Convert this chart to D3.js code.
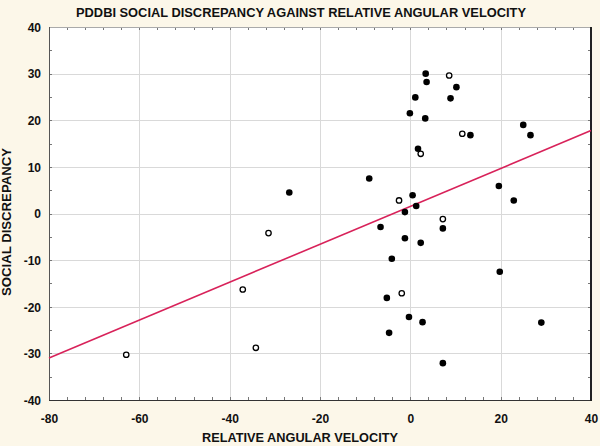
<!DOCTYPE html>
<html>
<head>
<meta charset="utf-8">
<script src="https://cdn.jsdelivr.net/npm/d3@7"></script>
<style>
  html, body { margin: 0; padding: 0; background: #fcf7e9; }
  svg { display: block; }
</style>
</head>
<body>
<svg id="chart" width="600" height="446"></svg>
<script>
// ---- Data ----
const filledX = [3.4, 3.6, 10.2, 1.1, 8.9, -0.1, 3.3, 25.0, 26.6, 13.3, 1.7, -9.1, 19.6, 22.9, 0.5, 1.3, -1.2, 7.2, -6.6, -1.2, 2.3, -4.1, 19.8, -5.2, -0.3, 2.7, -4.7, 29.0, 7.2, -26.8];
const filledY = [30.0, 28.2, 27.1, 24.9, 24.7, 21.5, 20.4, 19.0, 16.8, 16.8, 13.9, 7.5, 5.9, 2.8, 3.9, 1.6, 0.3, -3.2, -2.9, -5.3, -6.3, -9.7, -12.5, -18.1, -22.2, -23.3, -25.6, -23.4, -32.1, 4.5];
const openX = [8.6, 11.5, 2.3, -2.5, 7.2, -1.9, -31.4, -37.1, -34.2, -62.9];
const openY = [29.6, 17.1, 12.8, 2.8, -1.2, -17.1, -4.2, -16.3, -28.8, -30.3];
const fitX = [-80, 40];
const fitY = [-31.0, 17.8];
const xTicks = [-80, -60, -40, -20, 0, 20, 40];
const yTicks = [-40, -30, -20, -10, 0, 10, 20, 30, 40];
const titleText = "PDDBI SOCIAL DISCREPANCY AGAINST RELATIVE ANGULAR VELOCITY";
const xTitle = "RELATIVE ANGULAR VELOCITY";
const yTitle = "SOCIAL DISCREPANCY";

// ---- Layout ----
const L = 49, R = 591, T = 27, B = 400;
const svg = d3.select("#chart");
const x = d3.scaleLinear().domain([-80, 40]).range([L, R]);
const y = d3.scaleLinear().domain([-40, 40]).range([B, T]);
const font = "'Liberation Sans', Arial, sans-serif";
const narrow = "'Liberation Sans Narrow', 'Arial Narrow', 'Liberation Sans', Arial, sans-serif";
const fmt = d => String(d);

svg.append("rect").attr("width", 600).attr("height", 446).attr("fill", "#fcf7e9");
svg.append("rect").attr("x", L).attr("y", T).attr("width", R - L).attr("height", B - T).attr("fill", "#ffffff");

// gridlines
const grid = svg.append("g").attr("stroke", "#d9d9d9").attr("stroke-width", 1);
grid.selectAll("line.gx").data(xTicks.slice(1, -1)).join("line")
  .attr("x1", d => Math.round(x(d)) + 0.5).attr("x2", d => Math.round(x(d)) + 0.5)
  .attr("y1", T).attr("y2", B);
grid.selectAll("line.gy").data(yTicks.slice(1, -1)).join("line")
  .attr("y1", d => Math.round(y(d)) + 0.5).attr("y2", d => Math.round(y(d)) + 0.5)
  .attr("x1", L).attr("x2", R);

// minor ticks inside on all sides
const xMinor = d3.range(-80, 40.001, 4);
const yMinor = d3.range(-40, 40.001, 5);
const tk = svg.append("g").attr("stroke", "#777").attr("stroke-width", 1);
xMinor.forEach(v => {
  const px = Math.round(x(v)) + 0.5;
  tk.append("line").attr("x1", px).attr("x2", px).attr("y1", B).attr("y2", B - 3);
  tk.append("line").attr("x1", px).attr("x2", px).attr("y1", T).attr("y2", T + 3);
});
yMinor.forEach(v => {
  const py = Math.round(y(v)) + 0.5;
  tk.append("line").attr("x1", L).attr("x2", L + 3).attr("y1", py).attr("y2", py);
  tk.append("line").attr("x1", R).attr("x2", R - 3).attr("y1", py).attr("y2", py);
});

// axes via d3 (labels only, no domain)
const xAxis = svg.append("g").attr("transform", `translate(0,${B})`)
  .call(d3.axisBottom(x).tickValues(xTicks).tickSize(0).tickPadding(14).tickFormat(fmt));
const yAxis = svg.append("g").attr("transform", `translate(${L},0)`)
  .call(d3.axisLeft(y).tickValues(yTicks).tickSize(0).tickPadding(8).tickFormat(fmt));
[xAxis, yAxis].forEach(a => {
  a.select(".domain").remove();
  a.selectAll("text").attr("font-family", font).attr("font-weight", "bold")
    .attr("font-size", 12).attr("fill", "#111");
});
yAxis.selectAll("text").attr("dy", "0.36em");

// plot border
svg.append("line").attr("x1", L).attr("x2", R).attr("y1", T + 0.5).attr("y2", T + 0.5).attr("stroke", "#aaa");
svg.append("line").attr("x1", L + 0.5).attr("x2", L + 0.5).attr("y1", T).attr("y2", B).attr("stroke", "#555");
svg.append("line").attr("x1", L).attr("x2", R + 1).attr("y1", B + 0.5).attr("y2", B + 0.5).attr("stroke", "#333");
svg.append("line").attr("x1", R).attr("x2", R).attr("y1", T).attr("y2", B + 1).attr("stroke", "#222").attr("stroke-width", 2);

// fit line
svg.append("line")
  .attr("x1", x(fitX[0])).attr("y1", y(fitY[0]))
  .attr("x2", x(fitX[1])).attr("y2", y(fitY[1]))
  .attr("stroke", "#d8225a").attr("stroke-width", 1.6);

// points
const filled = filledX.map((v, i) => ({ x: v, y: filledY[i] }));
const open = openX.map((v, i) => ({ x: v, y: openY[i] }));
svg.append("g").selectAll("circle").data(filled).join("circle")
  .attr("cx", d => x(d.x)).attr("cy", d => y(d.y)).attr("r", 3.3).attr("fill", "#000");
svg.append("g").selectAll("circle").data(open).join("circle")
  .attr("cx", d => x(d.x)).attr("cy", d => y(d.y)).attr("r", 2.7)
  .attr("fill", "#fff").attr("stroke", "#000").attr("stroke-width", 1.3);

// titles
svg.append("text").attr("x", 301).attr("y", 17).attr("text-anchor", "middle")
  .attr("font-family", narrow).attr("font-weight", "bold").attr("font-size", 13.5)
  .attr("fill", "#111").attr("textLength", 450).attr("lengthAdjust", "spacingAndGlyphs")
  .text(titleText);
svg.append("text").attr("x", 300).attr("y", 442).attr("text-anchor", "middle")
  .attr("font-family", narrow).attr("font-weight", "bold").attr("font-size", 13)
  .attr("fill", "#111").attr("textLength", 196).attr("lengthAdjust", "spacingAndGlyphs")
  .text(xTitle);
svg.append("text").attr("transform", "translate(11,222) rotate(-90)").attr("text-anchor", "middle")
  .attr("font-family", narrow).attr("font-weight", "bold").attr("font-size", 13)
  .attr("fill", "#111").attr("textLength", 148).attr("lengthAdjust", "spacingAndGlyphs")
  .text(yTitle);
</script>
</body>
</html>
